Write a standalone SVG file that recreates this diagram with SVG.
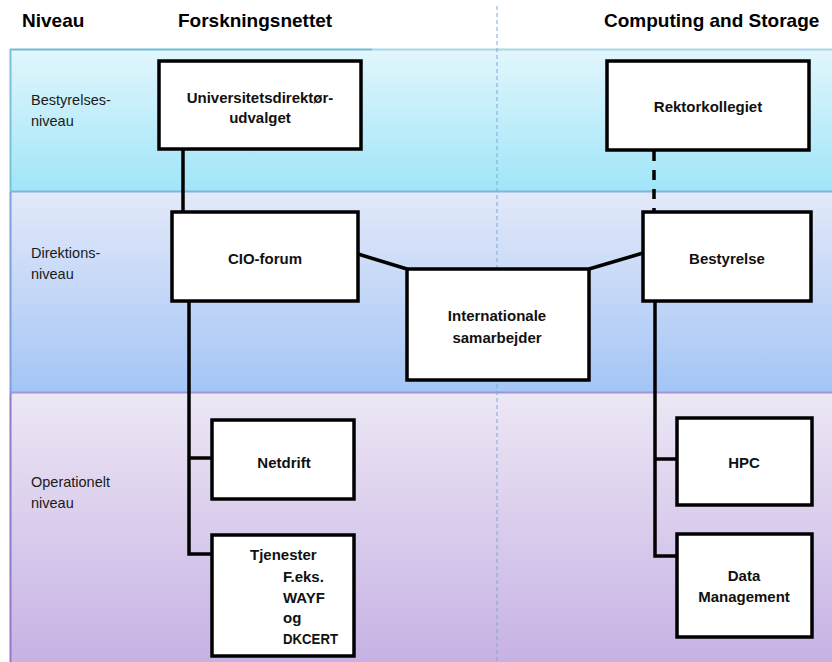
<svg xmlns="http://www.w3.org/2000/svg" width="832" height="662" viewBox="0 0 832 662">
  <defs>
    <linearGradient id="gBoard" x1="0" y1="0" x2="0" y2="1">
      <stop offset="0" stop-color="#e2f6fc"/>
      <stop offset="1" stop-color="#a0e5f8"/>
    </linearGradient>
    <linearGradient id="gDirection" x1="0" y1="0" x2="0" y2="1">
      <stop offset="0" stop-color="#e3e9f9"/>
      <stop offset="1" stop-color="#a4c5f6"/>
    </linearGradient>
    <linearGradient id="gOperation" x1="0" y1="0" x2="0" y2="1">
      <stop offset="0" stop-color="#ede7f5"/>
      <stop offset="1" stop-color="#c5b1e3"/>
    </linearGradient>
    <style>
      .hdr { font-family: "Liberation Sans", Arial, sans-serif; font-weight: bold; font-size: 19px; fill: #000; }
      .lvl { font-family: "Liberation Sans", Arial, sans-serif; font-size: 14.5px; fill: #1a1a1a; }
      .box rect { fill: #ffffff; stroke: #000; stroke-width: 3.5; }
      .box text { font-family: "Liberation Sans", Arial, sans-serif; font-weight: bold; font-size: 15px; fill: #111; text-anchor: middle; }
      .box text.left { text-anchor: start; }
      .link { fill: none; stroke: #000; stroke-width: 3.5; }
      .dash { stroke-dasharray: 10 9; }
    </style>
  </defs>

  <rect x="0" y="0" width="832" height="662" fill="#ffffff"/>

  <!-- level bands -->
  <g id="bands">
    <rect x="10" y="49" width="830" height="142" fill="url(#gBoard)"/>
    <rect x="10" y="192" width="830" height="200" fill="url(#gDirection)"/>
    <rect x="10" y="393" width="830" height="275" fill="url(#gOperation)"/>
    <line x1="10" y1="49.5" x2="372" y2="49.5" stroke="#6cbdd6" stroke-width="2"/>
    <line x1="372" y1="49.5" x2="832" y2="49.5" stroke="#a6d8e8" stroke-width="2"/>
    <line x1="10" y1="191.5" x2="832" y2="191.5" stroke="#7fb4dc" stroke-width="2"/>
    <line x1="10" y1="392.5" x2="832" y2="392.5" stroke="#9a98d6" stroke-width="2"/>
    <line x1="10.5" y1="49" x2="10.5" y2="192" stroke="#7cc0d8" stroke-width="2"/>
    <line x1="10.5" y1="192" x2="10.5" y2="393" stroke="#7f9fd8" stroke-width="2"/>
    <line x1="10.5" y1="393" x2="10.5" y2="662" stroke="#9478c8" stroke-width="2"/>
  </g>

  <!-- column divider -->
  <line x1="497" y1="6" x2="497" y2="662" stroke="#7fa8d4" stroke-width="1" stroke-dasharray="4 3"/>

  <!-- headings -->
  <g id="headings">
    <text class="hdr" x="22" y="27">Niveau</text>
    <text class="hdr" x="178" y="27">Forskningsnettet</text>
    <text class="hdr" x="604" y="27">Computing and Storage</text>
  </g>

  <!-- level labels -->
  <g id="levels">
    <text class="lvl" x="31" y="105">Bestyrelses-</text>
    <text class="lvl" x="31" y="126">niveau</text>
    <text class="lvl" x="31" y="258">Direktions-</text>
    <text class="lvl" x="31" y="279">niveau</text>
    <text class="lvl" x="31" y="487">Operationelt</text>
    <text class="lvl" x="31" y="508">niveau</text>
  </g>

  <!-- connectors -->
  <g id="connectors">
    <path class="link" d="M183 149 V212"/>
    <path class="link dash" d="M654 151 V212"/>
    <path class="link" d="M358 254 L407 269"/>
    <path class="link" d="M589 269 L643 253"/>
    <path class="link" d="M189 301 V554 H212 M189 458 H212"/>
    <path class="link" d="M655 301 V556 H677 M655 459 H677"/>
  </g>

  <!-- nodes -->
  <g id="univ" class="box">
    <rect x="159" y="61" width="202" height="88"/>
    <text x="260" y="103">Universitetsdirektør-</text>
    <text x="260" y="123">udvalget</text>
  </g>
  <g id="rektor" class="box">
    <rect x="607" y="61" width="202" height="89"/>
    <text x="708" y="112">Rektorkollegiet</text>
  </g>
  <g id="cio" class="box">
    <rect x="172" y="212" width="186" height="89"/>
    <text x="265" y="264">CIO-forum</text>
  </g>
  <g id="bestyrelse" class="box">
    <rect x="643" y="212" width="168" height="89"/>
    <text x="727" y="264">Bestyrelse</text>
  </g>
  <g id="intl" class="box">
    <rect x="407" y="269" width="182" height="111"/>
    <text x="497" y="321">Internationale</text>
    <text x="497" y="343">samarbejder</text>
  </g>
  <g id="netdrift" class="box">
    <rect x="212" y="420" width="142" height="79"/>
    <text x="284" y="468">Netdrift</text>
  </g>
  <g id="tjenester" class="box">
    <rect x="212" y="535" width="142" height="121"/>
    <text class="left" x="250" y="560">Tjenester</text>
    <text class="left" x="283" y="582">F.eks.</text>
    <text class="left" x="283" y="603">WAYF</text>
    <text class="left" x="283" y="623">og</text>
    <text class="left" x="283" y="644" textLength="55" lengthAdjust="spacingAndGlyphs">DKCERT</text>
  </g>
  <g id="hpc" class="box">
    <rect x="677" y="418" width="135" height="87"/>
    <text x="744" y="468">HPC</text>
  </g>
  <g id="data" class="box">
    <rect x="677" y="534" width="135" height="103"/>
    <text x="744" y="581">Data</text>
    <text x="744" y="602">Management</text>
  </g>
</svg>
